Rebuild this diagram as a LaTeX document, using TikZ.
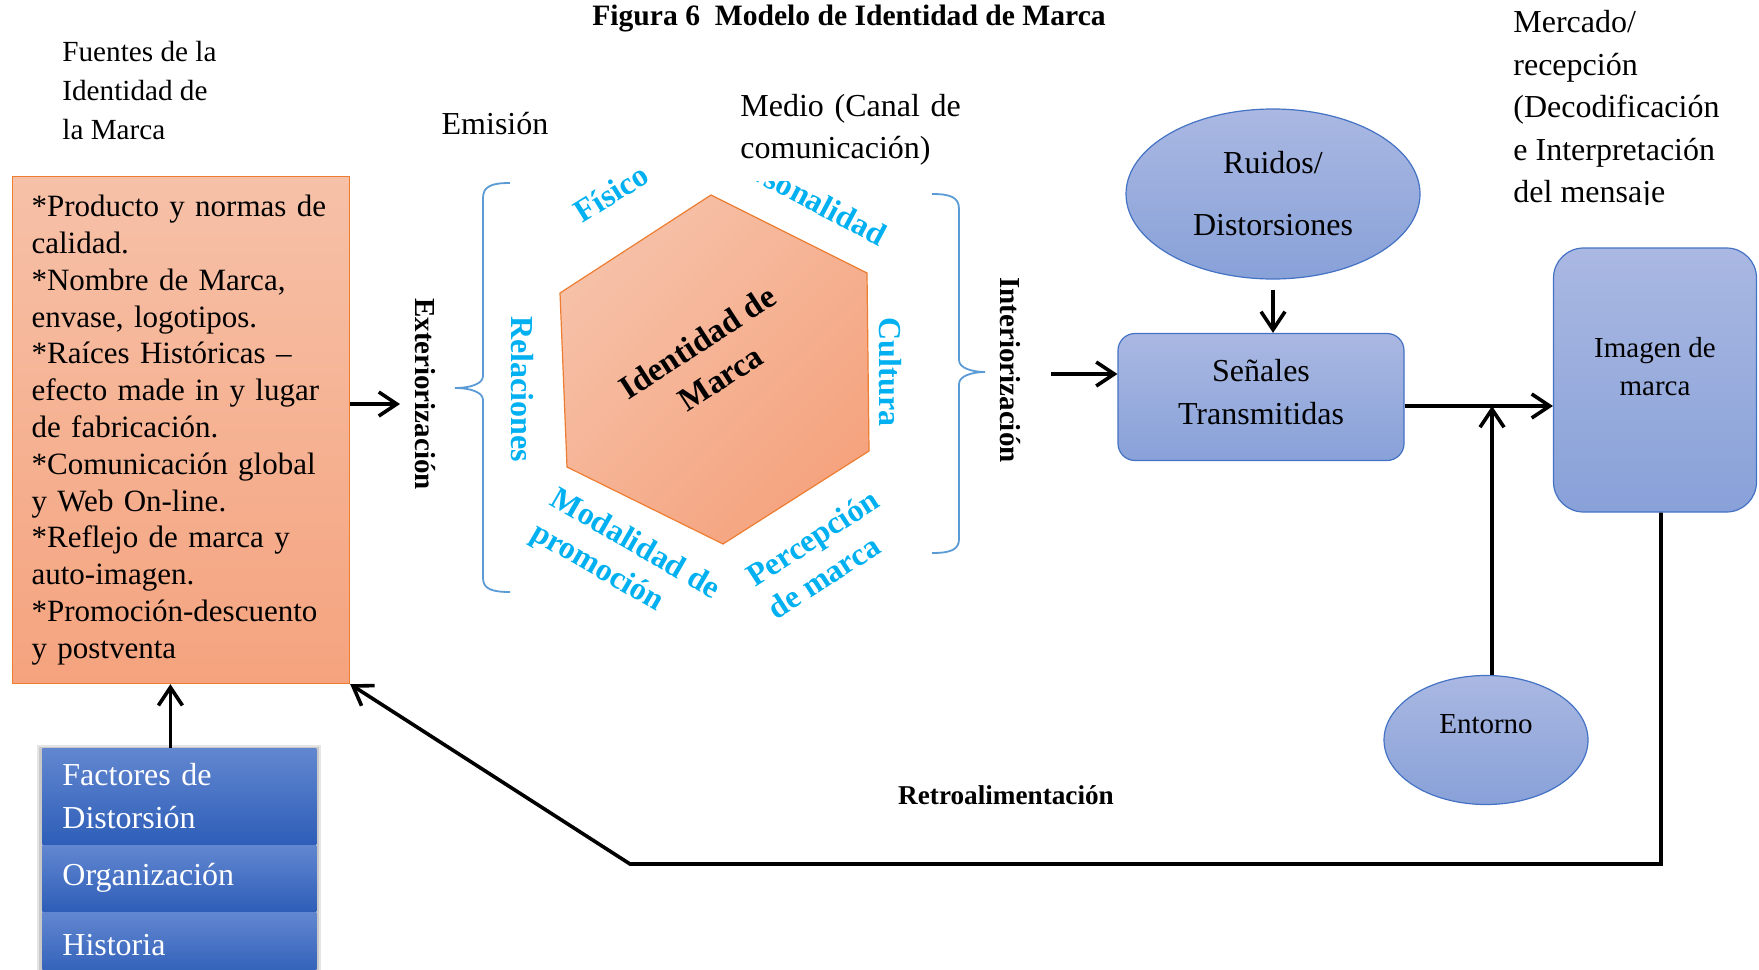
\documentclass[tikz,border=0pt]{standalone}
\usepackage{fontspec}
\setmainfont{Liberation Serif}
\usetikzlibrary{%
	positioning,
	shapes.geometric,
	arrows.meta
}

\definecolor{naranja}{RGB}{237,125,49}
\definecolor{salmonclaro}{RGB}{246,193,168}
\definecolor{salmon}{RGB}{245,163,126}
\definecolor{celesteclaro}{RGB}{170,184,226}
\definecolor{celeste}{RGB}{136,161,216}
\definecolor{azulborde}{RGB}{68,114,196}
\definecolor{azulclaro}{RGB}{98,135,208}
\definecolor{azul}{RGB}{46,94,184}
\definecolor{cian}{RGB}{0,176,240}
\definecolor{llavecolor}{RGB}{91,155,213}

\begin{document}
\begin{tikzpicture}[
		x=0.5pt,y=-0.5pt,
		fuente/.style={draw=naranja,line width=.6pt,top color=salmonclaro,bottom color=salmon,text width=149.5pt,inner xsep=9.5pt,minimum height=253.5pt,align=left,font=\fontsize{15.5}{18.4}\selectfont},
		factor/.style={top color=azulclaro,bottom color=azul,text=white,text width=117pt,inner xsep=10pt,inner ysep=0pt,align=left,font=\fontsize{16}{21.5}\selectfont},
		burbuja/.style={ellipse,draw=azulborde,line width=.6pt,top color=celesteclaro,bottom color=celeste,align=center,inner sep=0pt},
		caja/.style={draw=azulborde,line width=.6pt,top color=celesteclaro,bottom color=celeste,align=center,inner sep=0pt},
		rotulo/.style={align=left,inner sep=0pt,font=\fontsize{16}{21}\selectfont},
		rasgo/.style={text=cian,align=left,inner sep=0pt,font=\bfseries\fontsize{16}{19.5}\selectfont},
		eje/.style={rotate=-90,inner sep=0pt,font=\bfseries\fontsize{14.5}{17}\selectfont},
		flecha/.style={line width=1.8pt,-{Straight Barb[length=9pt,width=12pt]}},
		llave/.style={draw=llavecolor,line width=.9pt}
	]
	\useasboundingbox (0,0) rectangle (1759,969);
	
	\node(titulo) [font=\bfseries\fontsize{14.8}{17}\selectfont] at (849,18) {Figura 6\ \ Modelo de Identidad de Marca};
	
	%emision
	\node(fuentes-rot) [rotulo,anchor=west,font=\fontsize{14.6}{19.5}\selectfont] at (62,91) {Fuentes de la\\Identidad de\\la Marca};
	\node(fuentes) [fuente,anchor=north west] at (12,176) {*Producto y normas de\\calidad.\\{}*Nombre de Marca,\\envase, logotipos.\\{}*Raíces Históricas –\\efecto made in y lugar\\de fabricación.\\{}*Comunicación global\\y Web On-line.\\{}*Reflejo de marca y\\auto-imagen.\\{}*Promoción-descuento\\y postventa};
	
	% sombra de la pila
	\fill [black,opacity=.1] (37,745) rectangle (321,975);
	\fill [black,opacity=.12] (39,747) rectangle (319,975);
	\node(factores) [factor,anchor=north west,minimum height=48pt] at (42,748) {Factores de\\Distorsión};
	\node(organizacion) [factor,minimum height=33pt,below=0pt of factores] {Organización};
	\node(historia) [factor,minimum height=33pt,below=0pt of organizacion] {Historia};
	\draw [flecha] ([xshift=-4.5pt]factores.north) -- ([xshift=-4.5pt]factores.north |- fuentes.south);
	
	\coordinate (exter-punta) at (400,404);
	\draw [flecha] (fuentes.east |- exter-punta) -- (exter-punta);
	\node(exter) [eje] at (425,394) {Exteriorización};
	\node(emision) [rotulo] at (495,124) {Emisión};
	
	%prisma
	\draw [llave] (510,183) .. controls (492,183) and (483,186) .. (483,198) -- (483,376) .. controls (483,384) and (470,388) .. (455,388) .. controls (470,388) and (483,392) .. (483,400) -- (483,578) .. controls (483,589) and (492,592) .. (510,592);
	\draw [llave] (932,194) .. controls (950,194) and (959,197) .. (959,209) -- (959,360) .. controls (959,368) and (972,372) .. (985,372) .. controls (972,372) and (959,376) .. (959,384) -- (959,539) .. controls (959,550) and (950,553) .. (932,553);
	
	\draw [draw=naranja,line width=.6pt,top color=salmonclaro,bottom color=salmon,shading angle=45] (711,195) -- (867,273) -- (869,451) -- (723,544) -- (567,467) -- (560,293) -- cycle;
	\node(identidad) [align=center,rotate=33,font=\bfseries\fontsize{16.5}{21.5}\selectfont] at (709,360) {Identidad de\\Marca};
	
	\node(fisico) [rasgo,rotate=32] at (611,193) {Físico};
	\node(personalidad) [rasgo,rotate=-28] at (805,195) {Personalidad};
	\node(relaciones) [rasgo,rotate=-90] at (522,389) {Relaciones};
	\node(cultura) [rasgo,rotate=-90] at (890,372) {Cultura};
	\node(modalidad) [rasgo,rotate=-30] at (625,562) {Modalidad de\\promoción};
	\node(percepcion) [rasgo,rotate=33] at (823,554) {Percepción\\de marca};
	
	\node(medio) [rotulo,anchor=south west,fill=white,inner xsep=12.5pt,inner ysep=7.5pt,text width=115pt] at (715,181) {Medio (Canal de\\comunicación)};
	\node(inter) [eje] at (1010,370) {Interiorización};
	
	%recepcion
	\node(ruidos) [burbuja,minimum width=147pt,minimum height=85pt,font=\fontsize{16}{31}\selectfont] at (1273,194) {Ruidos/\\Distorsiones};
	\node(senales) [caja,rounded corners=8.5pt,minimum width=143pt,minimum height=63.5pt,text depth=5pt,font=\fontsize{16}{21.5}\selectfont] at (1261,397) {Señales\\Transmitidas};
	\node(imagen) [caja,rounded corners=15pt,minimum width=101.5pt,minimum height=132pt,text depth=14pt,font=\fontsize{14.5}{19}\selectfont] at (1655,380) {Imagen de\\marca};
	\node(entorno) [burbuja,minimum width=102pt,minimum height=64.5pt,text depth=16pt,font=\fontsize{14.5}{17}\selectfont] at (1486,740) {Entorno};
	
	\begin{scope}
		\clip (1490,0) rectangle (1759,204);
		\node(mercado) [rotulo,anchor=west,font=\fontsize{16}{21.3}\selectfont] at (1513,110) {Mercado/\\recepción\\(Decodificación\\e Interpretación\\del mensaje};
	\end{scope}
	
	\coordinate (inter-cola) at (1051,374);
	\draw [flecha] (inter-cola) -- (inter-cola -| senales.west);
	\draw [flecha] ([yshift=-5pt]ruidos.south) -- (ruidos.south |- senales.north);
	\draw [flecha] ([yshift=-4.5pt]senales.east) -- ([yshift=-4.5pt]senales.east -| imagen.west);
	\coordinate (cruce) at ([yshift=-4.5pt,xshift=3pt]senales.east -| entorno.north);
	\draw [flecha] ([xshift=3pt]entorno.north) -- (cruce);
	
	%retroalimentacion
	\coordinate (retro-esq) at (1661,864);
	\coordinate (retro-codo) at (630,864);
	\draw [flecha] (imagen.south -| retro-esq) -- (retro-esq) -- (retro-codo) -- (fuentes.south east);
	\node(retro) [font=\bfseries\fontsize{13.6}{16}\selectfont] at (1006,795) {Retroalimentación};
	
\end{tikzpicture}
\end{document}
